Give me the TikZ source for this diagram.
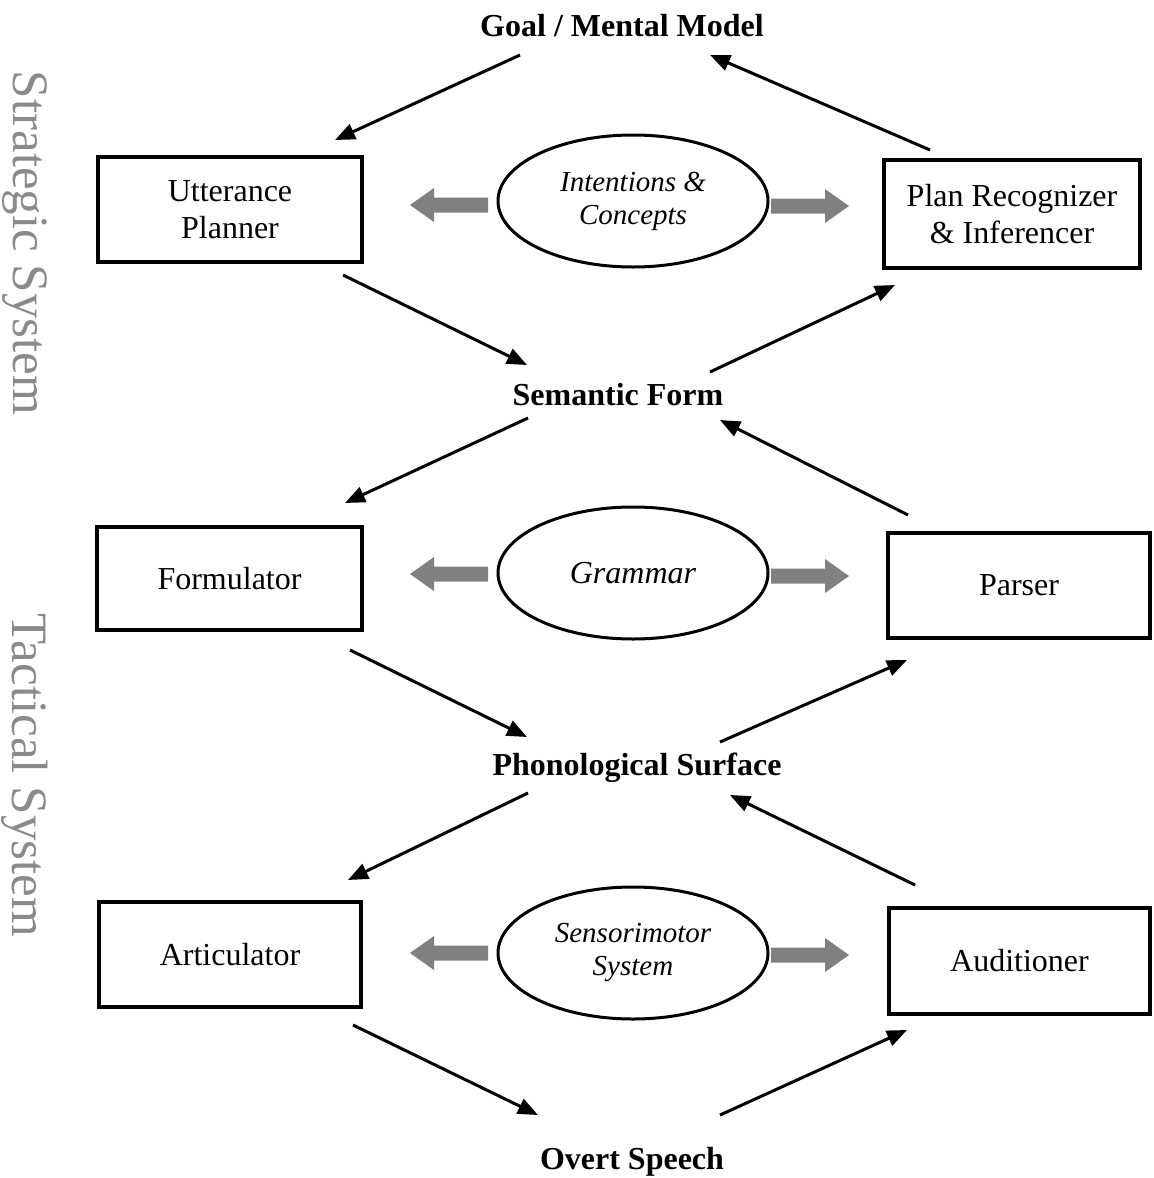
\documentclass[tikz,border=0pt]{standalone}
\usepackage{fontspec}
\setmainfont{Liberation Serif}
\usetikzlibrary{arrows.meta,shapes.geometric}
\definecolor{blockgray}{HTML}{808080}
\definecolor{sidegray}{HTML}{8A8A8A}
\begin{document}
\begin{tikzpicture}[x=0.5pt,y=-0.5pt,
  box/.style={draw, line width=2pt, inner sep=0pt, align=center,
    font=\fontsize{16}{18.5}\selectfont},
  oval/.style={draw, ellipse, line width=1.5pt, inner sep=0pt, align=center,
    minimum width=135pt, minimum height=66pt},
  lvl/.style={font=\fontsize{16}{19}\bfseries\selectfont, inner sep=0pt},
  side/.style={rotate=-90, text=sidegray, font=\fontsize{25.5}{30}\selectfont, inner sep=0pt},
  arr/.style={line width=1.5pt, -{Triangle[length=10pt,width=8pt]}},
  gl/.pic={\fill[blockgray] (0,0) -- (24,-17) -- (24,-7.5) -- (78,-7.5) -- (78,7.5) -- (24,7.5) -- (24,17) -- cycle;},
  gr/.pic={\fill[blockgray] (0,0) -- (-24,-17) -- (-24,-7.5) -- (-78,-7.5) -- (-78,7.5) -- (-24,7.5) -- (-24,17) -- cycle;}
]
\useasboundingbox (0,0) rectangle (1153,1178);

% side labels
\node[side] (strat) at (25,243) {Strategic System};
\node[side] (tact) at (25,775) {Tactical System};

% level labels
\node[lvl] (goal) at (622,26) {Goal / Mental Model};
\node[lvl] (sem) at (618,395) {Semantic Form};
\node[lvl] (phon) at (637,768) {Phonological Surface};
\node[lvl] (overt) at (632,1162) {Overt Speech};

% boxes
\node[box, minimum width=132pt, minimum height=52.5pt] (up) at (230,209.5) {Utterance\\Planner};
\node[box, minimum width=128pt, minimum height=54pt] (pr) at (1012,214) {Plan Recognizer\\\& Inferencer};
\node[box, minimum width=132.5pt, minimum height=51.5pt] (form) at (229.5,578.5) {Formulator};
\node[box, minimum width=131pt, minimum height=52.5pt] (parser) at (1019,585.5) {Parser};
\node[box, minimum width=131pt, minimum height=52.5pt] (artic) at (230,954.5) {Articulator};
\node[box, minimum width=130.5pt, minimum height=53pt] (audit) at (1019.5,961) {Auditioner};

% ellipses
\node[oval, font=\fontsize{14.5}{16.5}\itshape\selectfont] (intent) at (633,201) {Intentions \&\\Concepts};
\node[oval, font=\fontsize{16}{19}\itshape\selectfont] (gram) at (633,573) {Grammar};
\node[oval, font=\fontsize{14.5}{16.5}\itshape\selectfont] (senso) at (633,953) {Sensorimotor\\System};

% gray block arrows
\pic at (410,205) {gl};
\pic at (849,206) {gr};
\pic at (410,574) {gl};
\pic at (849,576) {gr};
\pic at (410,953) {gl};
\pic at (849,955) {gr};

% arrow end points
\coordinate (a1s) at (520,55);   \coordinate (a1e) at (335,140);
\coordinate (a2s) at (930,150);  \coordinate (a2e) at (710,55);
\coordinate (a3s) at (343,275);  \coordinate (a3e) at (527,365);
\coordinate (a4s) at (710,372);  \coordinate (a4e) at (895,285);
\coordinate (a5s) at (528,418);  \coordinate (a5e) at (345,503);
\coordinate (a6s) at (908,515);  \coordinate (a6e) at (720,420);
\coordinate (a7s) at (350,650);  \coordinate (a7e) at (527,737);
\coordinate (a8s) at (720,742);  \coordinate (a8e) at (907,660);
\coordinate (a9s) at (528,793);  \coordinate (a9e) at (348,880);
\coordinate (a10s) at (915,885); \coordinate (a10e) at (730,795);
\coordinate (a11s) at (353,1025);\coordinate (a11e) at (538,1115);
\coordinate (a12s) at (720,1115);\coordinate (a12e) at (907,1030);

\draw[arr] (a1s) -- (a1e);
\draw[arr] (a2s) -- (a2e);
\draw[arr] (a3s) -- (a3e);
\draw[arr] (a4s) -- (a4e);
\draw[arr] (a5s) -- (a5e);
\draw[arr] (a6s) -- (a6e);
\draw[arr] (a7s) -- (a7e);
\draw[arr] (a8s) -- (a8e);
\draw[arr] (a9s) -- (a9e);
\draw[arr] (a10s) -- (a10e);
\draw[arr] (a11s) -- (a11e);
\draw[arr] (a12s) -- (a12e);
\end{tikzpicture}
\end{document}
